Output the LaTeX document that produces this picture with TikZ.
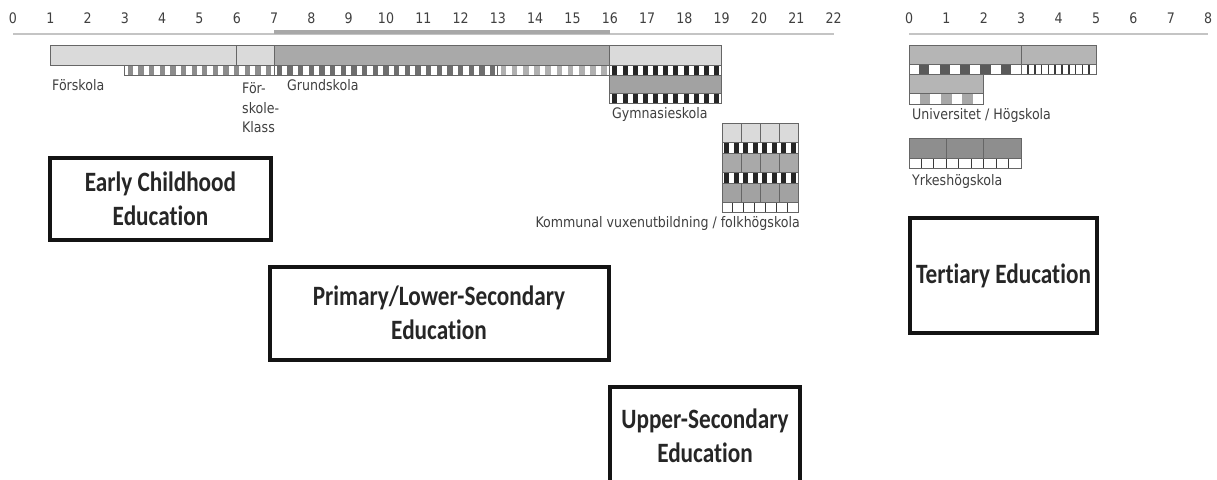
\documentclass[tikz,border=0pt]{standalone}
\usepackage{fontspec}
\newfontfamily\labfont[FakeStretch=0.87]{DejaVu Sans}
\newfontfamily\boxfont[FakeStretch=0.83,Ligatures=NoCommon]{Carlito}
\definecolor{labgray}{HTML}{404040}
\definecolor{lightbar}{HTML}{DADADA}
\definecolor{midbar}{HTML}{A9A9A9}
\definecolor{midbarb}{HTML}{A2A2A2}
\definecolor{barline}{HTML}{666666}
\definecolor{axisthin}{HTML}{C4C4C4}
\definecolor{axisthick}{HTML}{A8A8A8}
\definecolor{stripegray}{HTML}{8C8C8C}
\definecolor{stripedark}{HTML}{6E6E6E}
\definecolor{stripelight}{HTML}{B0B0B0}
\definecolor{gymstripe}{HTML}{262626}
\definecolor{unibar}{HTML}{B5B5B5}
\definecolor{unidark}{HTML}{5A5A5A}
\definecolor{unigray}{HTML}{A8A8A8}
\definecolor{yhbar}{HTML}{8E8E8E}
\definecolor{boxtext}{HTML}{262626}
\definecolor{darkline}{HTML}{3A3A3A}

\newcommand\stripes[6]{%
  \fill[white] (#1,#3) rectangle (#2,#4);
  \pgfmathsetmacro\stw{(#2-#1)/#5}
  \foreach \i in {1,...,#5} {
    \fill[#6] ({#1+(\i-1)*\stw+0.25*\stw},#3) rectangle ({#1+(\i-1)*\stw+0.75*\stw},#4);
  }
  \draw[barstroke] (#1,#3) rectangle (#2,#4);
}
\newcommand\cells[7]{%
  \fill[white] (#1,#3) rectangle (#2,#4);
  \pgfmathsetmacro\stw{(#2-#1)/#5}
  \pgfmathtruncatemacro\cm{#5-1}
  \foreach \i in {1,...,\cm} {
    \draw[#6, line width=#7] ({#1+\i*\stw},#3) -- ({#1+\i*\stw},#4);
  }
  \draw[barstroke] (#1,#3) rectangle (#2,#4);
}

\begin{document}
\begin{tikzpicture}[x=1pt,y=-1pt,
  barstroke/.style={draw=barline, line width=1pt},
  num/.style={font=\labfont\fontsize{14.5}{16}\selectfont, text=labgray, inner sep=0},
  lab/.style={font=\labfont\fontsize{14.5}{19.5}\selectfont, text=labgray, inner sep=0},
  edubox/.style={draw=black!92, line width=4pt, align=center, text=boxtext,
    font=\boxfont\bfseries\fontsize{28}{34}\selectfont, inner sep=0}]
\clip (0,0) rectangle (1217,479);
\fill[white] (0,0) rectangle (1217,479);

% ---------- left time line ----------
\begin{scope}[shift={(13pt,0pt)}, x=37.3pt, y=-1pt]
  \draw[axisthin, line width=2pt] (0,33.5) -- (22,33.5);
  \draw[axisthick, line width=4.5pt] (7,32) -- (16,32);
  \foreach \n in {0,...,22} \node[num] (L\n) at (\n,18) {\n};
  % upper bars
  \draw[barstroke, fill=lightbar] (1,45) rectangle (6,65);
  \draw[barstroke, fill=lightbar] (6,45) rectangle (7,65);
  \draw[barstroke, fill=midbar] (7,45) rectangle (16,65);
  \draw[barstroke, fill=lightbar] (16,45) rectangle (19,65);
  % striped row
  \stripes{3}{7}{65}{75}{14}{stripegray}
  \stripes{7}{13}{65}{75}{21}{stripedark}
  \stripes{13}{16}{65}{75}{10}{stripelight}
  % gymnasieskola
  \stripes{16}{19}{65}{75}{11}{gymstripe}
  \draw[barstroke, fill=midbarb] (16,75) rectangle (19,93);
  \stripes{16}{19}{93}{103}{11}{gymstripe}
\end{scope}

% ---------- Kommunal vuxenutbildning block ----------
\draw[barstroke, fill=lightbar] (722,123) rectangle (798,142);
\stripes{722}{798}{142}{153}{8}{gymstripe}
\draw[barstroke, fill=midbar] (722,153) rectangle (798,172);
\stripes{722}{798}{172}{183}{8}{gymstripe}
\draw[barstroke, fill=midbarb] (722,183) rectangle (798,202);
\cells{722}{798}{202}{212}{7}{darkline}{1pt}
\foreach \c in {741,760,779}
  \draw[barstroke] (\c,123) -- (\c,142) (\c,153) -- (\c,172) (\c,183) -- (\c,202);

% ---------- left labels ----------
\node[lab, anchor=west] (fsk) at (52,85) {Förskola};
\node[lab, anchor=west, align=left] (fkl) at (242,108) {För-\\skole-\\Klass};
\node[lab, anchor=west] (grs) at (287,85) {Grundskola};
\node[lab, anchor=west] (gym) at (612,114) {Gymnasieskola};
\node[lab, anchor=east] (kom) at (800,223) {Kommunal vuxenutbildning / folkhögskola};

% ---------- right time line ----------
\begin{scope}[shift={(909pt,0pt)}, x=37.4pt, y=-1pt]
  \draw[axisthin, line width=2pt] (0,33.5) -- (8,33.5);
  \foreach \n in {0,...,8} \node[num] (R\n) at (\n,18) {\n};
  \draw[barstroke, fill=unibar] (0,45) rectangle (3,64);
  \draw[barstroke, fill=unibar] (3,45) rectangle (5,64);
  \fill[white] (0,64) rectangle (3,74);
  \foreach \i in {1,3,5,7,9}
    \fill[unidark] ({\i*3/11},64) rectangle ({(\i+1)*3/11},74);
  \draw[barstroke] (0,64) rectangle (3,74);
  \cells{3}{5}{64}{74}{11}{darkline}{1.6pt}
  \draw[barstroke, fill=unibar] (0,74) rectangle (2,93);
  \fill[white] (0,93) rectangle (2,104);
  \foreach \i in {1,3,5}
    \fill[unigray] ({\i*2/7},93) rectangle ({(\i+1)*2/7},104);
  \draw[barstroke] (0,93) rectangle (2,104);
  \draw[barstroke, fill=yhbar] (0,138) rectangle (3,158);
  \draw[barstroke] (1,138) -- (1,158) (2,138) -- (2,158);
  \cells{0}{3}{158}{168}{9}{darkline}{1pt}
  \node[lab, anchor=west] (uni) at (0.08,115) {Universitet / Högskola};
  \node[lab, anchor=west] (yhs) at (0.08,181) {Yrkeshögskola};
\end{scope}

% ---------- education boxes ----------
\node[edubox, minimum width=221pt, minimum height=82pt] (ece) at (160.5,199) {Early Childhood\\Education};
\node[edubox, minimum width=339pt, minimum height=93pt] (pls) at (439,313) {Primary/Lower-Secondary\\Education};
\node[edubox, minimum width=190pt, minimum height=98pt] (use) at (705,436) {Upper-Secondary\\Education};
\node[edubox, minimum width=187pt, minimum height=115pt] (ter) at (1003.5,275.5) {Tertiary Education};
\end{tikzpicture}
\end{document}
